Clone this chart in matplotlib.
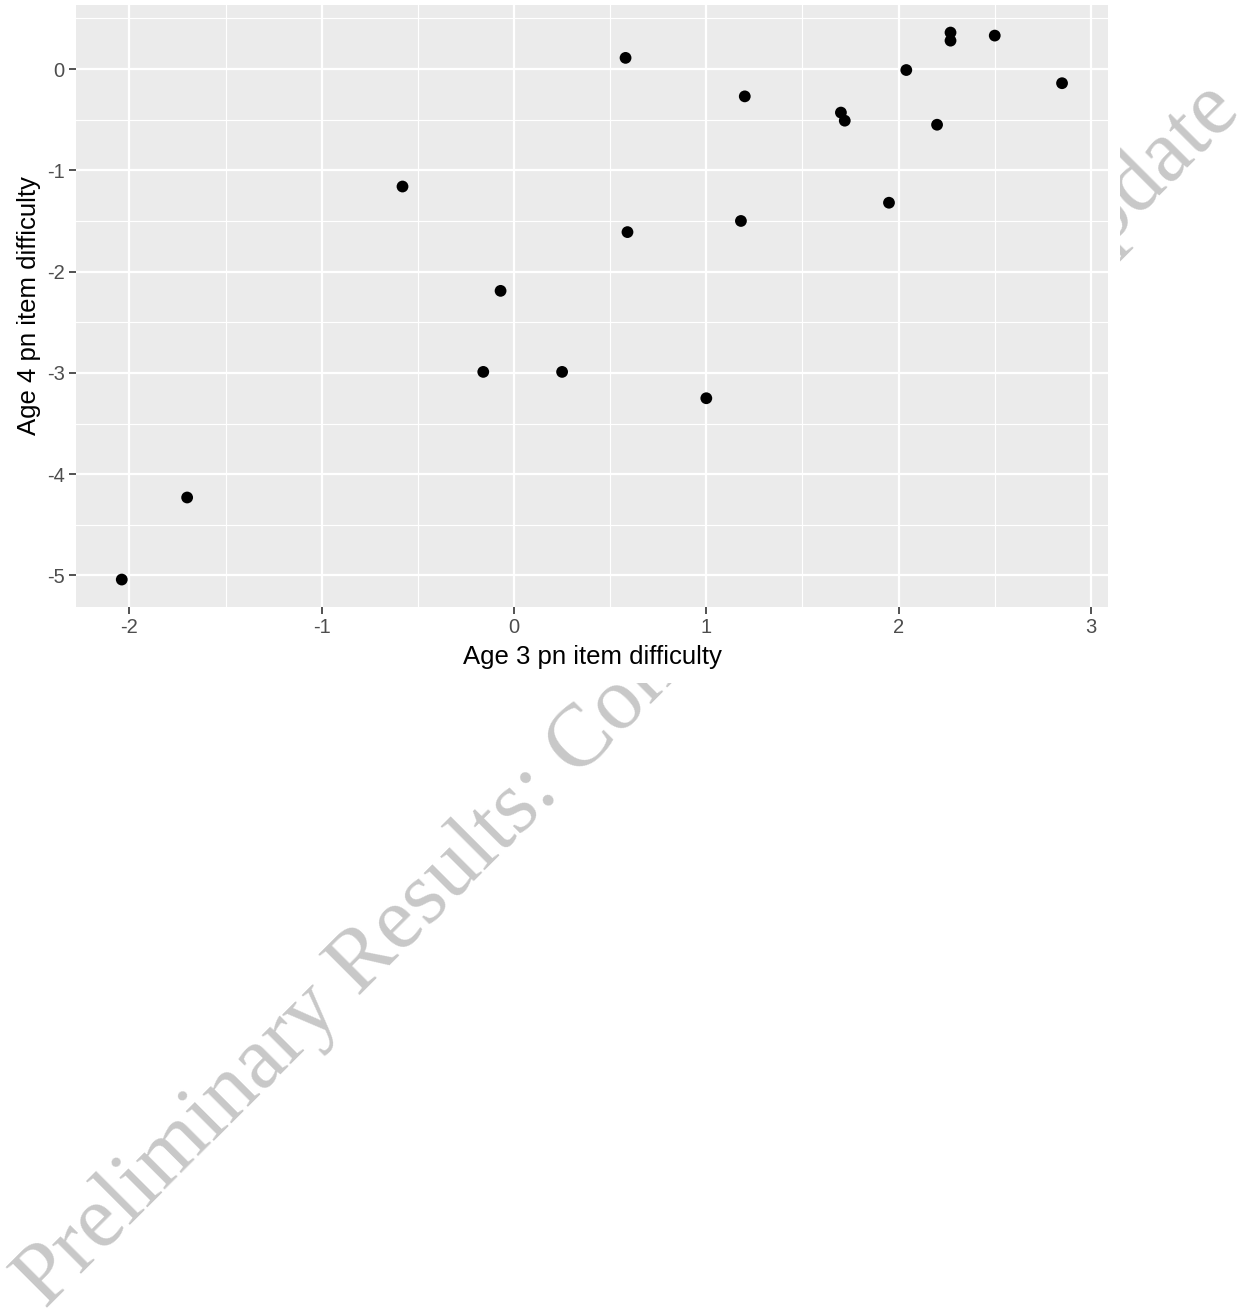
import matplotlib
matplotlib.use("Agg")
import matplotlib.pyplot as plt
from matplotlib.patches import Rectangle
from matplotlib.ticker import MultipleLocator

# item difficulty, age 3 vs age 4
age3 = [-2.04, -1.70, -0.58, -0.07, -0.16, 0.25, 0.58, 0.59, 1.00, 1.18,
        1.20, 1.70, 1.72, 1.95, 2.04, 2.20, 2.27, 2.27, 2.50, 2.85]
age4 = [-5.04, -4.23, -1.16, -2.19, -2.99, -2.99, 0.11, -1.61, -3.25, -1.50,
        -0.27, -0.43, -0.51, -1.32, -0.01, -0.55, 0.36, 0.28, 0.33, -0.14]

xticks = [-2, -1, 0, 1, 2, 3]
yticks = [0, -1, -2, -3, -4, -5]

xlabel = "Age 3 pn item difficulty"
ylabel = "Age 4 pn item difficulty"
watermark = "Preliminary Results: Content Subject to Update"

W, H = 1238, 1310
fig = plt.figure(figsize=(W / 100, H / 100), dpi=100)
fig.patch.set_facecolor("white")

# watermark sits under the plot image, only the edges show
fig.text(46 / W, 1 - 1310 / H, watermark, rotation=45, rotation_mode="anchor",
         ha="left", va="baseline", fontsize=64, color="#c8c8c8",
         family="Liberation Serif", zorder=-2)
fig.patches.append(Rectangle((0, 1 - 683 / H), 1120 / W, 683 / H,
                             transform=fig.transFigure, facecolor="white",
                             edgecolor="none", zorder=-1))

ax = fig.add_axes([76 / W, 1 - 607 / H, 1032 / W, 602 / H])
ax.set_facecolor("#ebebeb")
for s in ax.spines.values():
    s.set_visible(False)

ax.scatter(age3, age4, s=72, color="black", edgecolors="none", zorder=3)

ax.set_xlim(-2.278, 3.089)
ax.set_ylim(-5.311, 0.632)
ax.set_xticks(xticks)
ax.set_yticks(yticks)
ax.set_xticklabels([str(t) for t in xticks])
ax.set_yticklabels([str(t) for t in yticks])
ax.xaxis.set_minor_locator(MultipleLocator(0.5))
ax.yaxis.set_minor_locator(MultipleLocator(0.5))

ax.grid(which="major", color="white", linewidth=1.6)
ax.grid(which="minor", color="white", linewidth=0.8)
ax.set_axisbelow(True)

ax.tick_params(which="major", length=4.7, width=1.3, color="#444444",
               labelsize=14.5, labelcolor="#4d4d4d", pad=3.5)
ax.tick_params(which="minor", length=0)
for lab in ax.get_xticklabels() + ax.get_yticklabels():
    lab.set_family("Liberation Sans")

ax.set_xlabel(xlabel, fontsize=18.5, family="Liberation Sans", labelpad=5.5)
ax.set_ylabel(ylabel, fontsize=18.5, family="Liberation Sans", labelpad=4)

fig.savefig("out.png", dpi=100)
